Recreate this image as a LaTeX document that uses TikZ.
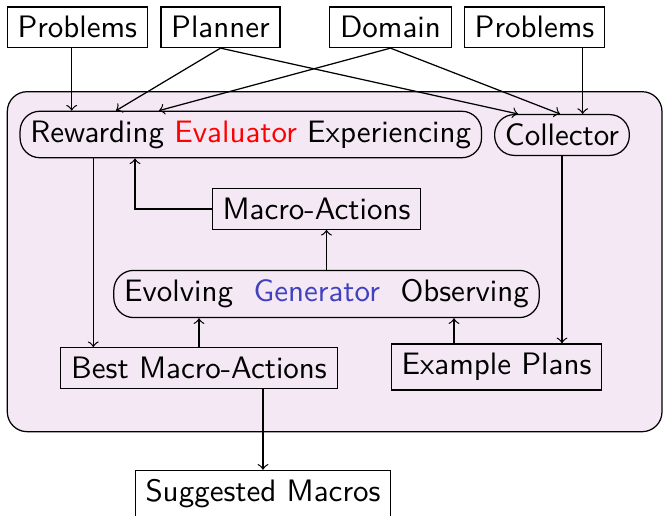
\documentclass[tikz,border=0pt]{standalone}
\definecolor{bgfill}{RGB}{243,232,243}
\definecolor{genblue}{RGB}{64,64,192}
\begin{document}
\begin{tikzpicture}[x=0.32258pt,y=-0.32258pt, font=\sffamily,
  box/.style={draw, inner ysep=3pt},
  pill/.style={draw, rounded corners=6.4pt, inner ysep=3pt},
  arr/.style={->}]
\useasboundingbox (0,0) rectangle (663,516);
\draw[fill=bgfill, rounded corners=6.4pt] (7.3,91.7) rectangle (662,431.7);
\node[box] (p1) at (77.3,27.3) {Problems};
\node[box] (pl) at (220.5,27.3) {Planner};
\node[box] (dom) at (390.5,27.3) {Domain};
\node[box] (p2) at (534.5,27.3) {Problems};
\node[pill] (rew) at (250.8,134.5) {Rewarding \textcolor{red}{Evaluator} Experiencing};
\node[pill] (col) at (562,135) {Collector};
\node[box] (ma) at (316.5,209) {Macro-Actions};
\node[pill] (evo) at (326.5,294) {Evolving\ \ \textcolor{genblue}{Generator}\ \ Observing};
\node[box] (best) at (199,368) {Best Macro-Actions};
\node[box] (ex) at (496.5,367) {Example Plans};
\node[box] (sug) at (263,494) {Suggested Macros};
\coordinate (xa) at (71.7,0);
\coordinate (xb) at (116,0);
\coordinate (xc) at (518,0);
\coordinate (xd) at (159,0);
\coordinate (xe) at (560,0);
\coordinate (xf) at (582.7,0);
\coordinate (xg) at (93.3,0);
\coordinate (xh) at (135,0);
\coordinate (xi) at (454,0);
\draw[arr] (p1.south -| xa) -- (rew.north -| xa);
\draw[arr] (pl.south) -- (rew.north -| xb);
\draw[arr] (pl.south) -- (col.north -| xc);
\draw[arr] (dom.south) -- (rew.north -| xd);
\draw[arr] (dom.south) -- (col.north -| xe);
\draw[arr] (p2.south -| xf) -- (col.north -| xf);
\draw[arr] (rew.south -| xg) -- (best.north -| xg);
\draw[arr] (ma.west) -| (rew.south -| xh);
\draw[arr] (evo.north) -- (evo.north |- ma.south);
\draw[arr] (best.north) -- (best.north |- evo.south);
\draw[arr] (ex.north -| xi) -- (evo.south -| xi);
\draw[arr] (col.south) -- (col.south |- ex.north);
\draw[arr] (best.south -| sug.north) -- (sug.north);
\end{tikzpicture}
\end{document}
